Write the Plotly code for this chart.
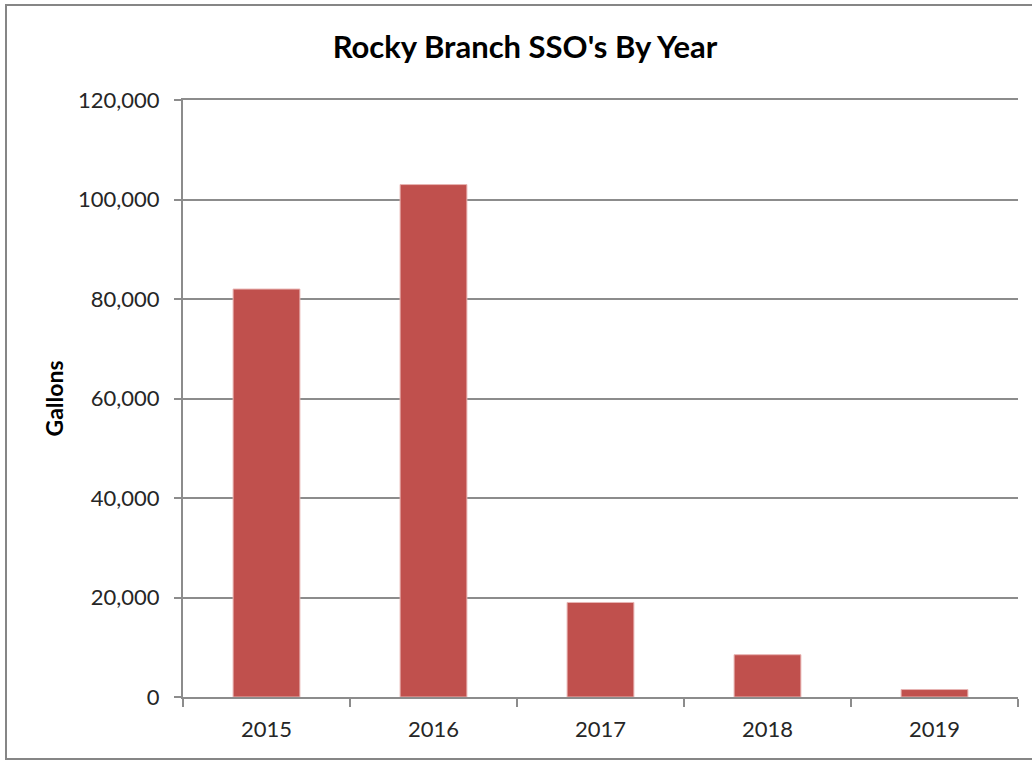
import plotly.graph_objects as go

years = ["2015", "2016", "2017", "2018", "2019"]
gallons = [82000, 103000, 19000, 8500, 1500]

title_text = "Rocky Branch SSO's By Year"
y_title = "Gallons"

L, R, T, B = 183, 14, 100, 64
W, H = 1032, 761
pw = W - L - R
ph = H - T - B

fig = go.Figure(
    go.Bar(
        x=years,
        y=gallons,
        marker=dict(color="#C0504D", line=dict(color="#E8B4B3", width=1)),
    )
)

fig.update_layout(
    width=W,
    height=H,
    margin=dict(l=L, r=R, t=T, b=B),
    paper_bgcolor="white",
    plot_bgcolor="white",
    bargap=0.6,
    showlegend=False,
    font=dict(family="Lato, Open Sans, sans-serif", color="#262626"),
    title=dict(
        text=f"<b>{title_text}</b>",
        x=(525) / W,
        xanchor="center",
        y=1 - 47 / H,
        yanchor="middle",
        font=dict(size=31, color="black", family="Lato, sans-serif"),
    ),
    shapes=[
        dict(
            type="rect",
            xref="paper",
            yref="paper",
            x0=(6 - L) / pw,
            x1=(1045 - L) / pw,
            y0=(H - B - 759) / ph,
            y1=(H - B - 5) / ph,
            line=dict(color="#868686", width=2),
            layer="below",
        )
    ],
)

fig.update_yaxes(
    range=[0, 120000],
    tickvals=[0, 20000, 40000, 60000, 80000, 100000, 120000],
    tickformat=",",
    showgrid=True,
    gridcolor="#8C8C8C",
    gridwidth=1.5,
    showline=True,
    linecolor="#8C8C8C",
    linewidth=2,
    ticks="outside",
    ticklen=7,
    tickwidth=1.5,
    tickcolor="#8C8C8C",
    ticklabelstandoff=10,
    tickfont=dict(size=22, color="#262626"),
    zeroline=False,
    title=dict(text=f"<b>{y_title}</b>", font=dict(size=23, color="black"), standoff=8),
)

fig.update_xaxes(
    type="category",
    showline=True,
    mirror=True,
    linecolor="#8C8C8C",
    linewidth=1.5,
    ticks="outside",
    tickson="boundaries",
    ticklen=8,
    tickwidth=1.5,
    tickcolor="#8C8C8C",
    ticklabelstandoff=12,
    tickfont=dict(size=22, color="#262626"),
    showgrid=False,
)

fig.write_html("out.html")
